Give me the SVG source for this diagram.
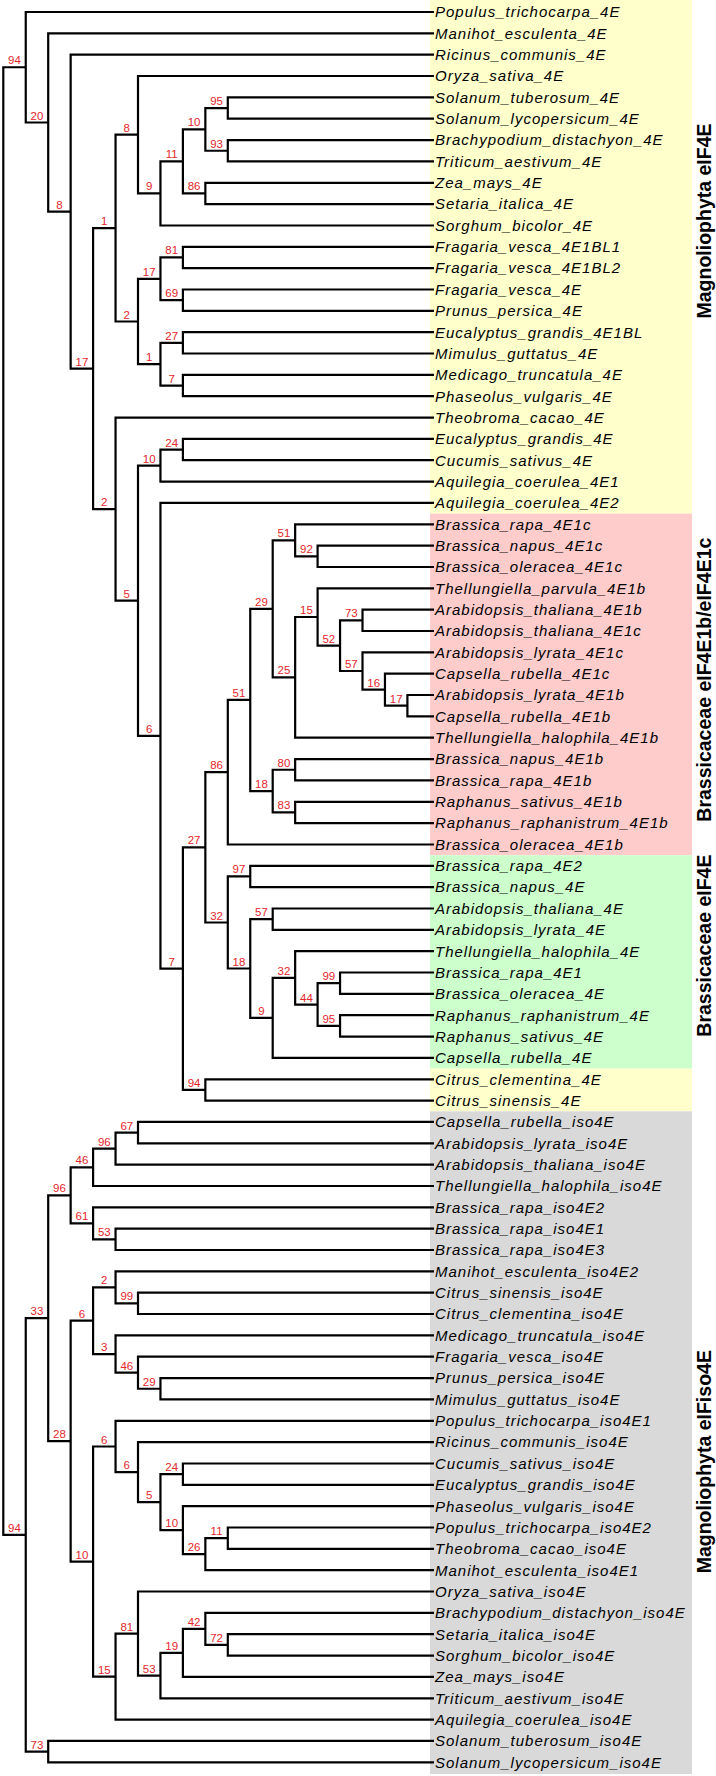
<svg xmlns="http://www.w3.org/2000/svg" width="716" height="1776" viewBox="0 0 716 1776">
<style>
.br{fill:none;stroke:#000;stroke-width:2.2;stroke-linejoin:miter}
.lf{font-family:"Liberation Sans",Arial,sans-serif;font-style:italic;font-size:15px;letter-spacing:1px;fill:#000}
.bs{font-family:"Liberation Sans",Arial,sans-serif;font-size:11.5px;fill:#e4262b;text-anchor:middle}
.grp{font-family:"Liberation Sans",Arial,sans-serif;font-weight:bold;font-size:19.5px;fill:#000}
</style>
<rect width="716" height="1776" fill="#fff"/>
<g id="bands">
<rect x="430" y="0" width="262" height="513.6" fill="#ffffcc"/>
<rect x="430" y="513.6" width="262" height="341.6" fill="#ffcccc"/>
<rect x="430" y="855.2" width="262" height="213.4" fill="#ccffcc"/>
<rect x="430" y="1068.6" width="262" height="42.7" fill="#ffffcc"/>
<rect x="430" y="1111.3" width="262" height="662.7" fill="#d9d9d9"/>
</g>
<g id="connectors" class="br">
<path d="M25.75 67.25H3.3V1534.9H25.75"/>
<path d="M434 12H25.75V122.5H48.2"/>
<path d="M434 33.3H48.2V211.65H70.65"/>
<path d="M434 54.7H70.65V368.6H93.1"/>
<path d="M115.55 228.1H93.1V509.15H115.55"/>
<path d="M138 134.7H115.55V321.5H138"/>
<path d="M434 76H138V193.4H160.45"/>
<path d="M182.9 161.4H160.45V225.5H434"/>
<path d="M205.35 129.4H182.9V193.45H205.35"/>
<path d="M227.8 108.05H205.35V150.75H227.8"/>
<path d="M434 97.4H227.8V118.7H434"/>
<path d="M434 140.1H227.8V161.4H434"/>
<path d="M434 182.8H205.35V204.1H434"/>
<path d="M160.45 278.8H138V364.2H160.45"/>
<path d="M182.9 257.45H160.45V300.15H182.9"/>
<path d="M434 246.8H182.9V268.1H434"/>
<path d="M434 289.5H182.9V310.8H434"/>
<path d="M182.9 342.85H160.45V385.55H182.9"/>
<path d="M434 332.2H182.9V353.5H434"/>
<path d="M434 374.9H182.9V396.2H434"/>
<path d="M434 417.6H115.55V600.7H138"/>
<path d="M160.45 465.6H138V735.8H160.45"/>
<path d="M182.9 449.55H160.45V481.6H434"/>
<path d="M434 438.9H182.9V460.2H434"/>
<path d="M434 502.9H160.45V968.65H182.9"/>
<path d="M205.35 847.35H182.9V1089.95H205.35"/>
<path d="M227.8 772.2H205.35V922.5H227.8"/>
<path d="M250.25 699.95H227.8V844.5H434"/>
<path d="M272.7 608.8H250.25V791.1H272.7"/>
<path d="M295.15 540.3H272.7V677.35H295.15"/>
<path d="M434 524.3H295.15V556.3H317.6"/>
<path d="M434 545.6H317.6V567H434"/>
<path d="M317.6 617H295.15V737.7H434"/>
<path d="M434 588.3H317.6V645.7H340.05"/>
<path d="M362.5 620.35H340.05V671H362.5"/>
<path d="M434 609.7H362.5V631H434"/>
<path d="M434 652.4H362.5V689.7H384.95"/>
<path d="M434 673.7H384.95V705.7H407.4"/>
<path d="M434 695H407.4V716.4H434"/>
<path d="M295.15 769.75H272.7V812.45H295.15"/>
<path d="M434 759.1H295.15V780.4H434"/>
<path d="M434 801.8H295.15V823.1H434"/>
<path d="M250.25 876.45H227.8V968.5H250.25"/>
<path d="M434 865.8H250.25V887.1H434"/>
<path d="M272.7 919.15H250.25V1017.9H272.7"/>
<path d="M434 908.5H272.7V929.8H434"/>
<path d="M295.15 977.9H272.7V1057.9H434"/>
<path d="M434 951.2H295.15V1004.55H317.6"/>
<path d="M340.05 983.2H317.6V1025.9H340.05"/>
<path d="M434 972.5H340.05V993.9H434"/>
<path d="M434 1015.2H340.05V1036.6H434"/>
<path d="M434 1079.3H205.35V1100.6H434"/>
<path d="M48.2 1318.2H25.75V1751.6H48.2"/>
<path d="M434 1740.9H48.2V1762.3H434"/>
<path d="M70.65 1195.3H48.2V1441.1H70.65"/>
<path d="M93.1 1167.3H70.65V1223.3H93.1"/>
<path d="M115.55 1148.6H93.1V1186H434"/>
<path d="M138 1132.6H115.55V1164.6H434"/>
<path d="M434 1121.9H138V1143.3H434"/>
<path d="M434 1207.3H93.1V1239.35H115.55"/>
<path d="M434 1228.7H115.55V1250H434"/>
<path d="M93.1 1320.7H70.65V1561.55H93.1"/>
<path d="M115.55 1287.4H93.1V1354.05H115.55"/>
<path d="M434 1271.4H115.55V1303.35H138"/>
<path d="M434 1292.7H138V1314H434"/>
<path d="M434 1335.4H115.55V1372.7H138"/>
<path d="M434 1356.7H138V1388.75H160.45"/>
<path d="M434 1378.1H160.45V1399.4H434"/>
<path d="M115.55 1446.5H93.1V1676.6H115.55"/>
<path d="M434 1420.8H115.55V1472.15H138"/>
<path d="M434 1442.1H138V1502.2H160.45"/>
<path d="M182.9 1474.15H160.45V1530.2H182.9"/>
<path d="M434 1463.5H182.9V1484.8H434"/>
<path d="M434 1506.2H182.9V1554.2H205.35"/>
<path d="M227.8 1538.15H205.35V1570.2H434"/>
<path d="M434 1527.5H227.8V1548.8H434"/>
<path d="M138 1633.55H115.55V1719.6H434"/>
<path d="M434 1591.5H138V1675.6H160.45"/>
<path d="M182.9 1652.9H160.45V1698.3H434"/>
<path d="M205.35 1628.9H182.9V1676.9H434"/>
<path d="M434 1612.9H205.35V1644.9H227.8"/>
<path d="M434 1634.2H227.8V1655.6H434"/>
</g>
<g id="support" class="bs">
<text x="14.5" y="64.2">94</text>
<text x="14.5" y="1531.9">94</text>
<text x="37" y="119.5">20</text>
<text x="59.4" y="208.6">8</text>
<text x="81.9" y="365.6">17</text>
<text x="104.3" y="225.1">1</text>
<text x="104.3" y="506.1">2</text>
<text x="126.8" y="131.7">8</text>
<text x="126.8" y="318.5">2</text>
<text x="149.2" y="190.4">9</text>
<text x="171.7" y="158.4">11</text>
<text x="194.1" y="126.4">10</text>
<text x="194.1" y="190.4">86</text>
<text x="216.6" y="105">95</text>
<text x="216.6" y="147.7">93</text>
<text x="149.2" y="275.8">17</text>
<text x="149.2" y="361.2">1</text>
<text x="171.7" y="254.4">81</text>
<text x="171.7" y="297.1">69</text>
<text x="171.7" y="339.8">27</text>
<text x="171.7" y="382.5">7</text>
<text x="126.8" y="597.7">5</text>
<text x="149.2" y="462.6">10</text>
<text x="149.2" y="732.8">6</text>
<text x="171.7" y="446.5">24</text>
<text x="171.7" y="965.6">7</text>
<text x="194.1" y="844.3">27</text>
<text x="194.1" y="1086.9">94</text>
<text x="216.6" y="769.2">86</text>
<text x="216.6" y="919.5">32</text>
<text x="239" y="696.9">51</text>
<text x="261.5" y="605.8">29</text>
<text x="261.5" y="788.1">18</text>
<text x="283.9" y="537.3">51</text>
<text x="283.9" y="674.3">25</text>
<text x="306.4" y="553.3">92</text>
<text x="306.4" y="614">15</text>
<text x="328.8" y="642.7">52</text>
<text x="351.3" y="617.3">73</text>
<text x="351.3" y="668">57</text>
<text x="373.7" y="686.7">16</text>
<text x="396.2" y="702.7">17</text>
<text x="283.9" y="766.7">80</text>
<text x="283.9" y="809.4">83</text>
<text x="239" y="873.4">97</text>
<text x="239" y="965.5">18</text>
<text x="261.5" y="916.1">57</text>
<text x="261.5" y="1014.9">9</text>
<text x="283.9" y="974.9">32</text>
<text x="306.4" y="1001.5">44</text>
<text x="328.8" y="980.2">99</text>
<text x="328.8" y="1022.9">95</text>
<text x="37" y="1315.2">33</text>
<text x="37" y="1748.6">73</text>
<text x="59.4" y="1192.3">96</text>
<text x="59.4" y="1438.1">28</text>
<text x="81.9" y="1164.3">46</text>
<text x="81.9" y="1220.3">61</text>
<text x="104.3" y="1145.6">96</text>
<text x="126.8" y="1129.6">67</text>
<text x="104.3" y="1236.3">53</text>
<text x="81.9" y="1317.7">6</text>
<text x="81.9" y="1558.5">10</text>
<text x="104.3" y="1284.4">2</text>
<text x="104.3" y="1351">3</text>
<text x="126.8" y="1300.3">99</text>
<text x="126.8" y="1369.7">46</text>
<text x="149.2" y="1385.7">29</text>
<text x="104.3" y="1443.5">6</text>
<text x="104.3" y="1673.6">15</text>
<text x="126.8" y="1469.1">6</text>
<text x="149.2" y="1499.2">5</text>
<text x="171.7" y="1471.1">24</text>
<text x="171.7" y="1527.2">10</text>
<text x="194.1" y="1551.2">26</text>
<text x="216.6" y="1535.1">11</text>
<text x="126.8" y="1630.5">81</text>
<text x="149.2" y="1672.6">53</text>
<text x="171.7" y="1649.9">19</text>
<text x="194.1" y="1625.9">42</text>
<text x="216.6" y="1641.9">72</text>
</g>
<g id="leaves" class="lf">
<g id="leaf-0"><text x="435" y="17.3">Populus_trichocarpa_4E</text></g>
<g id="leaf-1"><text x="435" y="38.6">Manihot_esculenta_4E</text></g>
<g id="leaf-2"><text x="435" y="60">Ricinus_communis_4E</text></g>
<g id="leaf-3"><text x="435" y="81.3">Oryza_sativa_4E</text></g>
<g id="leaf-4"><text x="435" y="102.7">Solanum_tuberosum_4E</text></g>
<g id="leaf-5"><text x="435" y="124">Solanum_lycopersicum_4E</text></g>
<g id="leaf-6"><text x="435" y="145.4">Brachypodium_distachyon_4E</text></g>
<g id="leaf-7"><text x="435" y="166.7">Triticum_aestivum_4E</text></g>
<g id="leaf-8"><text x="435" y="188.1">Zea_mays_4E</text></g>
<g id="leaf-9"><text x="435" y="209.4">Setaria_italica_4E</text></g>
<g id="leaf-10"><text x="435" y="230.8">Sorghum_bicolor_4E</text></g>
<g id="leaf-11"><text x="435" y="252.1">Fragaria_vesca_4E1BL1</text></g>
<g id="leaf-12"><text x="435" y="273.4">Fragaria_vesca_4E1BL2</text></g>
<g id="leaf-13"><text x="435" y="294.8">Fragaria_vesca_4E</text></g>
<g id="leaf-14"><text x="435" y="316.1">Prunus_persica_4E</text></g>
<g id="leaf-15"><text x="435" y="337.5">Eucalyptus_grandis_4E1BL</text></g>
<g id="leaf-16"><text x="435" y="358.8">Mimulus_guttatus_4E</text></g>
<g id="leaf-17"><text x="435" y="380.2">Medicago_truncatula_4E</text></g>
<g id="leaf-18"><text x="435" y="401.5">Phaseolus_vulgaris_4E</text></g>
<g id="leaf-19"><text x="435" y="422.9">Theobroma_cacao_4E</text></g>
<g id="leaf-20"><text x="435" y="444.2">Eucalyptus_grandis_4E</text></g>
<g id="leaf-21"><text x="435" y="465.5">Cucumis_sativus_4E</text></g>
<g id="leaf-22"><text x="435" y="486.9">Aquilegia_coerulea_4E1</text></g>
<g id="leaf-23"><text x="435" y="508.2">Aquilegia_coerulea_4E2</text></g>
<g id="leaf-24"><text x="435" y="529.6">Brassica_rapa_4E1c</text></g>
<g id="leaf-25"><text x="435" y="550.9">Brassica_napus_4E1c</text></g>
<g id="leaf-26"><text x="435" y="572.3">Brassica_oleracea_4E1c</text></g>
<g id="leaf-27"><text x="435" y="593.6">Thellungiella_parvula_4E1b</text></g>
<g id="leaf-28"><text x="435" y="615">Arabidopsis_thaliana_4E1b</text></g>
<g id="leaf-29"><text x="435" y="636.3">Arabidopsis_thaliana_4E1c</text></g>
<g id="leaf-30"><text x="435" y="657.7">Arabidopsis_lyrata_4E1c</text></g>
<g id="leaf-31"><text x="435" y="679">Capsella_rubella_4E1c</text></g>
<g id="leaf-32"><text x="435" y="700.3">Arabidopsis_lyrata_4E1b</text></g>
<g id="leaf-33"><text x="435" y="721.7">Capsella_rubella_4E1b</text></g>
<g id="leaf-34"><text x="435" y="743">Thellungiella_halophila_4E1b</text></g>
<g id="leaf-35"><text x="435" y="764.4">Brassica_napus_4E1b</text></g>
<g id="leaf-36"><text x="435" y="785.7">Brassica_rapa_4E1b</text></g>
<g id="leaf-37"><text x="435" y="807.1">Raphanus_sativus_4E1b</text></g>
<g id="leaf-38"><text x="435" y="828.4">Raphanus_raphanistrum_4E1b</text></g>
<g id="leaf-39"><text x="435" y="849.8">Brassica_oleracea_4E1b</text></g>
<g id="leaf-40"><text x="435" y="871.1">Brassica_rapa_4E2</text></g>
<g id="leaf-41"><text x="435" y="892.4">Brassica_napus_4E</text></g>
<g id="leaf-42"><text x="435" y="913.8">Arabidopsis_thaliana_4E</text></g>
<g id="leaf-43"><text x="435" y="935.1">Arabidopsis_lyrata_4E</text></g>
<g id="leaf-44"><text x="435" y="956.5">Thellungiella_halophila_4E</text></g>
<g id="leaf-45"><text x="435" y="977.8">Brassica_rapa_4E1</text></g>
<g id="leaf-46"><text x="435" y="999.2">Brassica_oleracea_4E</text></g>
<g id="leaf-47"><text x="435" y="1020.5">Raphanus_raphanistrum_4E</text></g>
<g id="leaf-48"><text x="435" y="1041.9">Raphanus_sativus_4E</text></g>
<g id="leaf-49"><text x="435" y="1063.2">Capsella_rubella_4E</text></g>
<g id="leaf-50"><text x="435" y="1084.6">Citrus_clementina_4E</text></g>
<g id="leaf-51"><text x="435" y="1105.9">Citrus_sinensis_4E</text></g>
<g id="leaf-52"><text x="435" y="1127.2">Capsella_rubella_iso4E</text></g>
<g id="leaf-53"><text x="435" y="1148.6">Arabidopsis_lyrata_iso4E</text></g>
<g id="leaf-54"><text x="435" y="1169.9">Arabidopsis_thaliana_iso4E</text></g>
<g id="leaf-55"><text x="435" y="1191.3">Thellungiella_halophila_iso4E</text></g>
<g id="leaf-56"><text x="435" y="1212.6">Brassica_rapa_iso4E2</text></g>
<g id="leaf-57"><text x="435" y="1234">Brassica_rapa_iso4E1</text></g>
<g id="leaf-58"><text x="435" y="1255.3">Brassica_rapa_iso4E3</text></g>
<g id="leaf-59"><text x="435" y="1276.7">Manihot_esculenta_iso4E2</text></g>
<g id="leaf-60"><text x="435" y="1298">Citrus_sinensis_iso4E</text></g>
<g id="leaf-61"><text x="435" y="1319.3">Citrus_clementina_iso4E</text></g>
<g id="leaf-62"><text x="435" y="1340.7">Medicago_truncatula_iso4E</text></g>
<g id="leaf-63"><text x="435" y="1362">Fragaria_vesca_iso4E</text></g>
<g id="leaf-64"><text x="435" y="1383.4">Prunus_persica_iso4E</text></g>
<g id="leaf-65"><text x="435" y="1404.7">Mimulus_guttatus_iso4E</text></g>
<g id="leaf-66"><text x="435" y="1426.1">Populus_trichocarpa_iso4E1</text></g>
<g id="leaf-67"><text x="435" y="1447.4">Ricinus_communis_iso4E</text></g>
<g id="leaf-68"><text x="435" y="1468.8">Cucumis_sativus_iso4E</text></g>
<g id="leaf-69"><text x="435" y="1490.1">Eucalyptus_grandis_iso4E</text></g>
<g id="leaf-70"><text x="435" y="1511.5">Phaseolus_vulgaris_iso4E</text></g>
<g id="leaf-71"><text x="435" y="1532.8">Populus_trichocarpa_iso4E2</text></g>
<g id="leaf-72"><text x="435" y="1554.1">Theobroma_cacao_iso4E</text></g>
<g id="leaf-73"><text x="435" y="1575.5">Manihot_esculenta_iso4E1</text></g>
<g id="leaf-74"><text x="435" y="1596.8">Oryza_sativa_iso4E</text></g>
<g id="leaf-75"><text x="435" y="1618.2">Brachypodium_distachyon_iso4E</text></g>
<g id="leaf-76"><text x="435" y="1639.5">Setaria_italica_iso4E</text></g>
<g id="leaf-77"><text x="435" y="1660.9">Sorghum_bicolor_iso4E</text></g>
<g id="leaf-78"><text x="435" y="1682.2">Zea_mays_iso4E</text></g>
<g id="leaf-79"><text x="435" y="1703.6">Triticum_aestivum_iso4E</text></g>
<g id="leaf-80"><text x="435" y="1724.9">Aquilegia_coerulea_iso4E</text></g>
<g id="leaf-81"><text x="435" y="1746.2">Solanum_tuberosum_iso4E</text></g>
<g id="leaf-82"><text x="435" y="1767.6">Solanum_lycopersicum_iso4E</text></g>
</g>
<g id="group-labels" class="grp">
<g id="grp-mag4e"><text transform="translate(711 221) rotate(-90)" text-anchor="middle">Magnoliophyta eIF4E</text></g>
<g id="grp-bras1bc"><text transform="translate(711 821.7) rotate(-90)">Brassicaceae eIF4E1b/eIF4E1c</text></g>
<g id="grp-bras4e"><text transform="translate(711 1036.7) rotate(-90)">Brassicaceae eIF4E</text></g>
<g id="grp-magiso"><text transform="translate(711 1573.3) rotate(-90)">Magnoliophyta eIFiso4E</text></g>
</g>
</svg>
